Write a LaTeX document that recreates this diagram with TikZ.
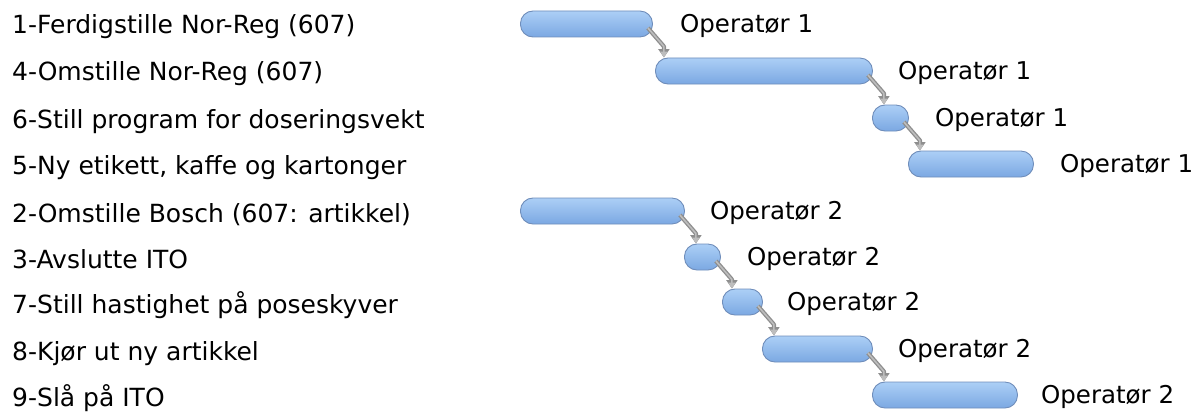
\documentclass[tikz,border=0pt]{standalone}
\usepackage{fontspec}
\setmainfont{DejaVu Sans}
\usetikzlibrary{arrows.meta}
\definecolor{barfillT}{HTML}{ACCFF6}
\definecolor{barfillB}{HTML}{7BA8E2}
\definecolor{barline}{HTML}{6F8DBA}
\definecolor{connout}{HTML}{8E8E8E}
\definecolor{connin}{HTML}{BDBDBD}
\tikzset{
  bar/.style={draw=barline, line width=0.9pt, rounded corners=12.5pt, top color=barfillT, bottom color=barfillB, minimum height=26pt, inner sep=0pt, anchor=west},
  task/.style={anchor=base west, inner sep=0pt, font=\fontsize{25}{28}\selectfont},
  oplab/.style={anchor=base west, inner sep=0pt, font=\fontsize{24.5}{28}\selectfont},
  conn/.style={draw=connin, line width=1.6pt, line join=round, -{Triangle[length=6pt,width=7pt]},
    preaction={draw=connout, line width=4.2pt, line join=round, -{Triangle[length=8.5pt,width=11pt]}}},
}
\begin{document}
\begin{tikzpicture}[x=1pt,y=-1pt]
\useasboundingbox (0,0) rectangle (1198,412);
% task labels
\node[task] (t1) at (12,34) {1-Ferdigstille Nor-Reg (607)};
\node[task] (t4) at (12,81) {4-Omstille Nor-Reg (607)};
\node[task] (t6) at (12,128) {6-Still program for doseringsvekt};
\node[task] (t5) at (12,174) {5-Ny etikett, kaffe og kartonger};
\node[task] (t2) at (12,222) {2-Omstille Bosch (607: artikkel)};
\node[task] (t3) at (12,268) {3-Avslutte ITO};
\node[task] (t7) at (12,313) {7-Still hastighet på poseskyver};
\node[task] (t8) at (12,360) {8-Kjør ut ny artikkel};
\node[task] (t9) at (12,406) {9-Slå på ITO};
% bars
\node[bar, minimum width=132pt] (b1) at (520,24) {};
\node[bar, minimum width=217pt] (b4) at (655,71) {};
\node[bar, minimum width=36pt] (b6) at (872,118) {};
\node[bar, minimum width=125pt] (b5) at (908,164) {};
\node[bar, minimum width=164pt] (b2) at (520,211) {};
\node[bar, minimum width=36pt] (b3) at (684,257) {};
\node[bar, minimum width=40pt] (b7) at (722,302) {};
\node[bar, minimum width=110pt] (b8) at (762,349) {};
\node[bar, minimum width=145pt] (b9) at (872,395) {};
% operator labels
\node[oplab] (o1) at ([xshift=27pt,yshift=-8.5pt]b1.east) {Operatør 1};
\node[oplab] (o4) at ([xshift=25pt,yshift=-8.5pt]b4.east) {Operatør 1};
\node[oplab] (o6) at ([xshift=26pt,yshift=-8.5pt]b6.east) {Operatør 1};
\node[oplab] (o5) at ([xshift=26pt,yshift=-8.5pt]b5.east) {Operatør 1};
\node[oplab] (o2) at ([xshift=25pt,yshift=-8.5pt]b2.east) {Operatør 2};
\node[oplab] (o3) at ([xshift=26pt,yshift=-8.5pt]b3.east) {Operatør 2};
\node[oplab] (o7) at ([xshift=24pt,yshift=-8.5pt]b7.east) {Operatør 2};
\node[oplab] (o8) at ([xshift=25pt,yshift=-8.5pt]b8.east) {Operatør 2};
\node[oplab] (o9) at ([xshift=23pt,yshift=-8.5pt]b9.east) {Operatør 2};
% connectors
\foreach \a/\b in {b1/b4, b4/b6, b6/b5, b2/b3, b3/b7, b7/b8, b8/b9}{
  \coordinate (m) at ([xshift=11pt,yshift=-9pt]\a.south east);
  \draw[conn] ([xshift=-5pt,yshift=-4pt]\a.east) -- (m) -- (m |- \b.north);
}
\end{tikzpicture}
\end{document}
